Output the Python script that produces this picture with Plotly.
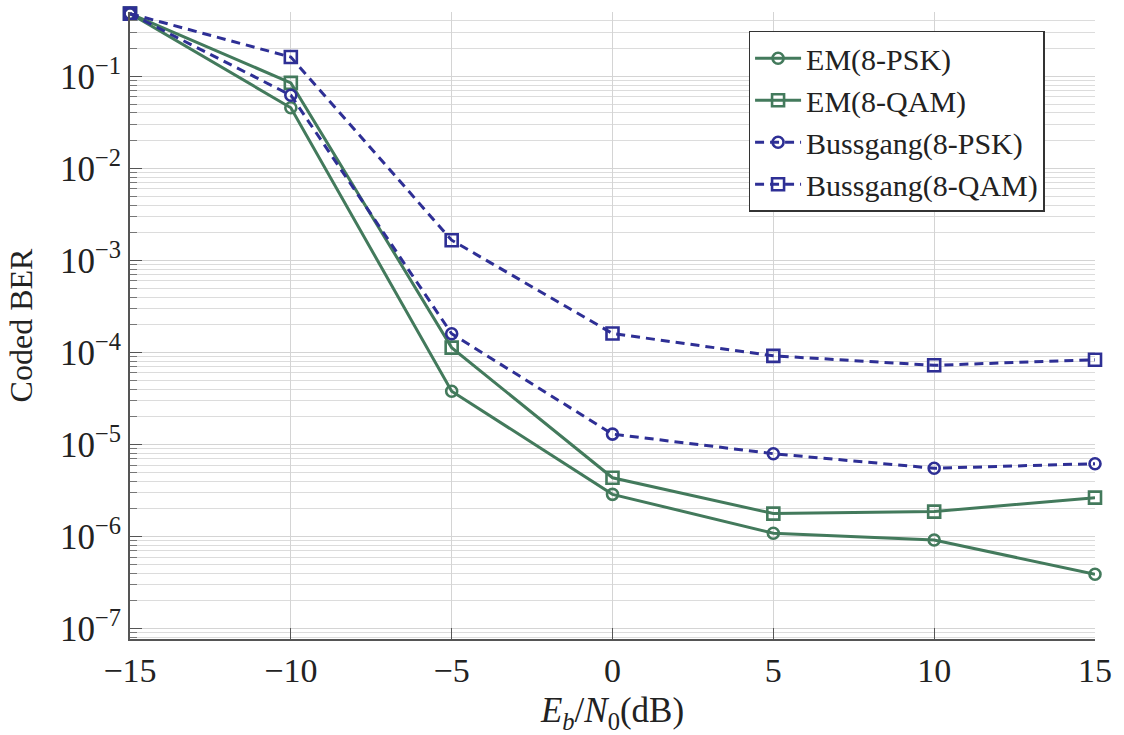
import plotly.graph_objects as go

# Eb/N0 sweep (dB)
ebn0 = [-15, -10, -5, 0, 5, 10, 15]

# Coded BER per detector / constellation
em_psk = [0.48, 0.0456, 3.8e-5, 2.88e-6, 1.09e-6, 9.2e-7, 3.9e-7]
em_qam = [0.48, 0.085, 1.13e-4, 4.36e-6, 1.78e-6, 1.87e-6, 2.65e-6]
bg_psk = [0.48, 0.0624, 1.6e-4, 1.3e-5, 7.96e-6, 5.53e-6, 6.2e-6]
bg_qam = [0.48, 0.162, 1.66e-3, 1.61e-4, 9.2e-5, 7.26e-5, 8.36e-5]

x_ticks = [-15, -10, -5, 0, 5, 10, 15]
x_labels = ["\u221215", "\u221210", "\u22125", "0", "5", "10", "15"]
y_ticks = [1e-7, 1e-6, 1e-5, 1e-4, 1e-3, 1e-2, 1e-1]
y_labels = ["10<sup>\u22127</sup>", "10<sup>\u22126</sup>", "10<sup>\u22125</sup>",
            "10<sup>\u22124</sup>", "10<sup>\u22123</sup>", "10<sup>\u22122</sup>",
            "10<sup>\u22121</sup>"]

GREEN = "#437a5c"
BLUE = "#2e2f95"
FONT = "Liberation Serif"
TXT = "#222"

series = [
    ("EM(8-PSK)", em_psk, GREEN, "solid", "circle-open", 11),
    ("EM(8-QAM)", em_qam, GREEN, "solid", "square-open", 12),
    ("Bussgang(8-PSK)", bg_psk, BLUE, "9px,6px", "circle-open", 11),
    ("Bussgang(8-QAM)", bg_qam, BLUE, "9px,6px", "square-open", 12),
]

fig = go.Figure()
for name, vals, color, dash, sym, msize in series:
    fig.add_trace(go.Scatter(
        x=ebn0, y=vals, name=name, mode="lines+markers",
        line=dict(color=color, width=3, dash=dash),
        marker=dict(symbol=sym, size=msize, color=color,
                    line=dict(color=color, width=2.6)),
        cliponaxis=False,
    ))

# minor log ticks (2..9 in each decade)
minor_vals = [m * 10.0 ** e for e in range(-8, 0) for m in range(2, 10)]

fig.update_layout(
    width=1124, height=735,
    margin=dict(l=130, r=22, t=12, b=91),
    paper_bgcolor="white", plot_bgcolor="white",
    font=dict(family=FONT, size=32, color=TXT),
    showlegend=True,
    legend=dict(
        x=0.641, y=0.97, xanchor="left", yanchor="top",
        bgcolor="white", bordercolor="#333", borderwidth=1.5,
        font=dict(family=FONT, size=30, color=TXT),
        tracegroupgap=0, itemwidth=46,
    ),
    xaxis=dict(
        range=[-15, 15],
        tickmode="array", tickvals=x_ticks, ticktext=x_labels,
        ticks="inside", ticklen=11, tickcolor="#555", tickwidth=1,
        showgrid=True, gridcolor="#d4d4d4", gridwidth=1,
        showline=True, linecolor="#555", linewidth=2,
        zeroline=False, mirror=False,
        tickfont=dict(family=FONT, size=34, color=TXT),
        title=dict(text="<i>E</i><sub><i>b</i></sub>/<i>N</i><sub>0</sub>(dB)",
                   font=dict(family=FONT, size=35, color=TXT), standoff=10),
    ),
    yaxis=dict(
        type="log",
        range=[-7.112, -0.301],
        tickmode="array", tickvals=y_ticks, ticktext=y_labels,
        ticks="inside", ticklen=12, tickcolor="#555", tickwidth=1,
        showgrid=True, gridcolor="#d4d4d4", gridwidth=1,
        showline=True, linecolor="#555", linewidth=2,
        zeroline=False, mirror=False,
        tickfont=dict(family=FONT, size=35, color=TXT),
        minor=dict(tickmode="array", tickvals=minor_vals,
                   ticks="inside", ticklen=7, tickcolor="#777",
                   showgrid=True, gridcolor="#dcdcdc", gridwidth=1),
        title=dict(text="Coded BER", font=dict(family=FONT, size=32, color=TXT),
                   standoff=18),
    ),
)

fig.write_html("out.html")
